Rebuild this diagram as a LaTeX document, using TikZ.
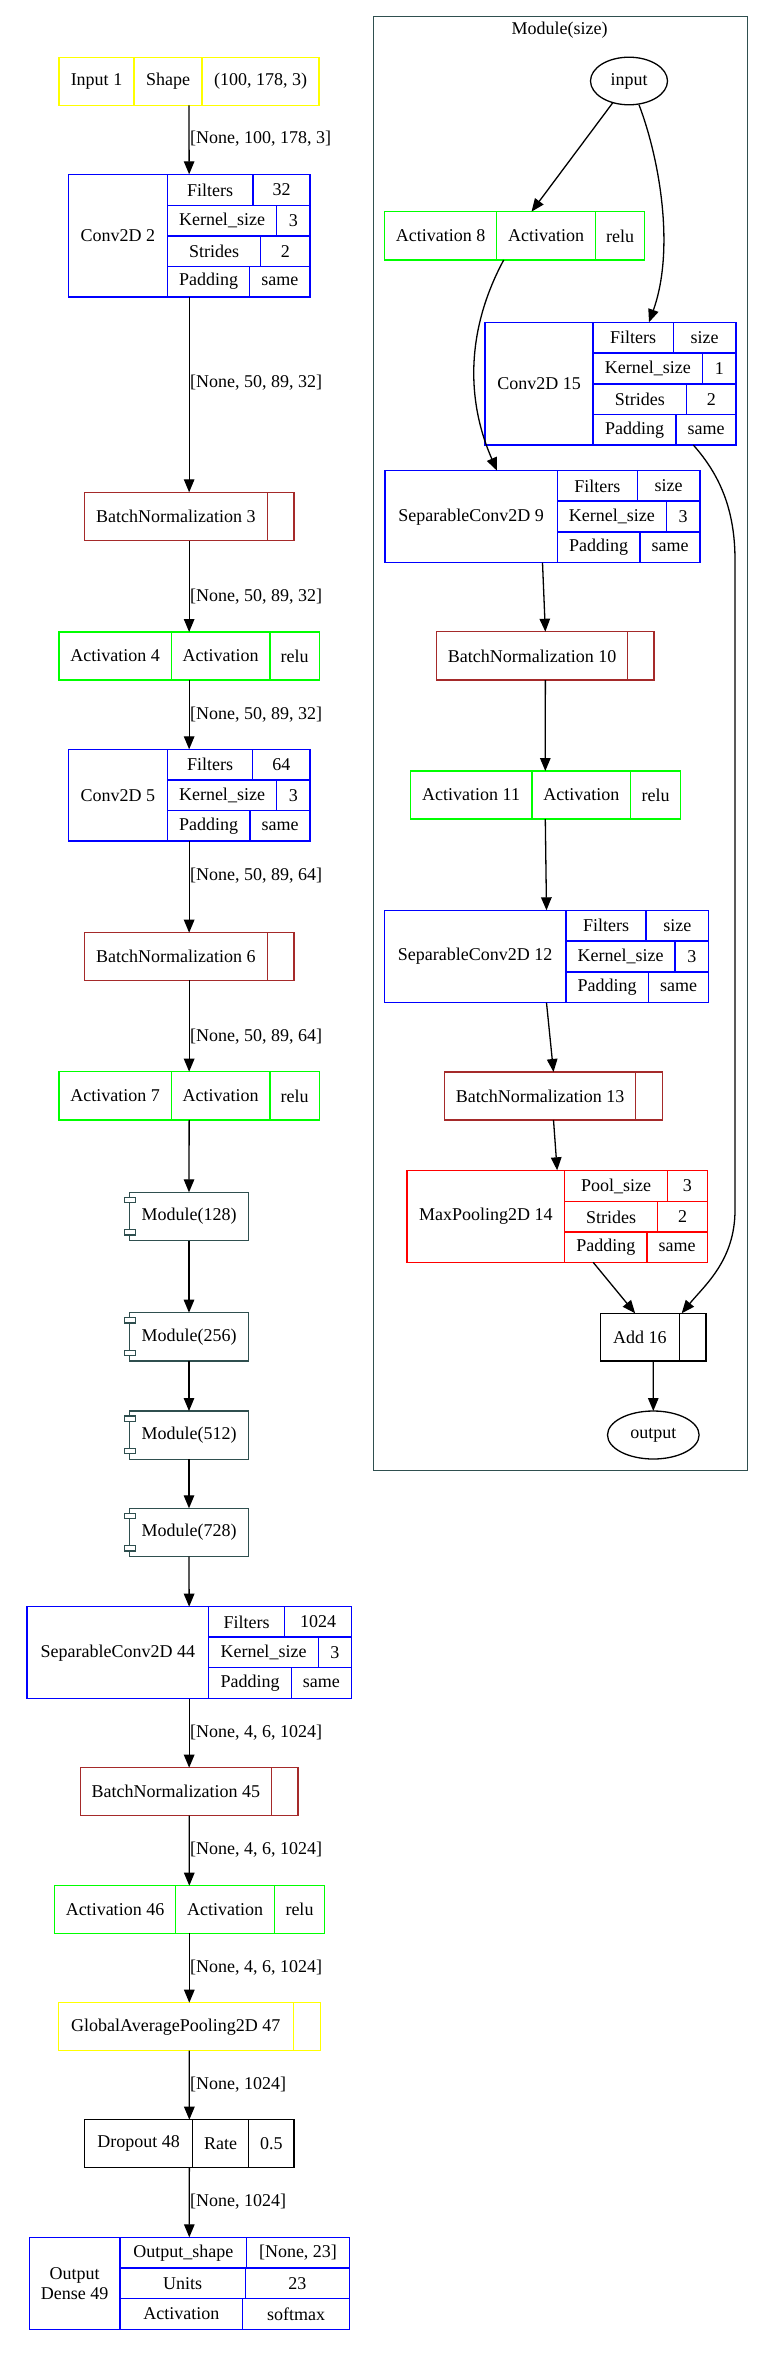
\documentclass[tikz,border=0pt]{standalone}
\usepackage{fontspec}
\setmainfont{Liberation Serif}
\usetikzlibrary{arrows.meta,shapes.geometric,calc}
\definecolor{ylw}{HTML}{FFFF00}
\definecolor{blu}{HTML}{0000FF}
\definecolor{grn}{HTML}{00FF00}
\definecolor{brn}{HTML}{A52A2A}
\definecolor{rd}{HTML}{FF0000}
\definecolor{dsg}{HTML}{2F4F4F}
\definecolor{blk}{HTML}{000000}
\tikzset{
  txt/.style={font=\fontsize{18}{20}\selectfont},
  cellst/.style={txt, draw, line width=1.3pt, inner sep=0pt, outer sep=0pt, align=center},
  recst/.style={draw=none, inner sep=0pt, outer sep=0pt},
  edge/.style={line width=1.3pt, -{Triangle[length=13pt,width=10.5pt]}},
  lbl/.style={txt, anchor=west, inner sep=0pt},
  compst/.style={txt, draw=dsg, line width=1.3pt, inner sep=0pt, outer sep=0pt},
  tabst/.style={draw=dsg, line width=1.1pt, fill=white},
  ellst/.style={txt, draw, ellipse, line width=1.3pt, inner sep=0pt, outer sep=0pt},
}
\newcommand\cellnd[7]{\node[cellst,draw=#1,minimum width={(#5-#3)*1pt},minimum height={(#6-#4)*1pt},anchor=north west] (#2) at (#3,#4) {#7};}
\newcommand\recnd[5]{\node[recst,minimum width={(#4-#2)*1pt},minimum height={(#5-#3)*1pt},anchor=north west] (#1) at (#2,#3) {};}
\newcommand\compnd[3]{%
  \node[compst, minimum width=119.4pt, minimum height=48.4pt, anchor=north west] (#1) at (129.3,#2) {#3};
  \draw[tabst] ($(#1.north west)+(-5,5)$) rectangle +(11,5.3);
  \draw[tabst] ($(#1.south west)+(-5,-11)$) rectangle +(11,5.3);}
\begin{document}
\begin{tikzpicture}[x=1pt,y=-1pt]
\useasboundingbox (0,0) rectangle (763,2357);

% ===== Left column =====
% Input 1
\recnd{in1}{59}{57.3}{319}{105.3}
\cellnd{ylw}{in1a}{59}{57.3}{134}{105.3}{Input 1}
\cellnd{ylw}{in1b}{134}{57.3}{202}{105.3}{Shape}
\cellnd{ylw}{in1c}{202}{57.3}{319}{105.3}{(100, 178, 3)}
% Conv2D 2
\recnd{conv2}{68.3}{174.3}{310}{297}
\cellnd{blu}{c2n}{68.3}{174.3}{167.3}{297}{Conv2D 2}
\cellnd{blu}{c2a}{167.3}{174.3}{253}{205.7}{Filters}
\cellnd{blu}{c2av}{253}{174.3}{310}{205.7}{32}
\cellnd{blu}{c2b}{167.3}{205.7}{276.7}{236}{Kernel\_size}
\cellnd{blu}{c2bv}{276.7}{205.7}{310}{236}{3}
\cellnd{blu}{c2c}{167.3}{236}{260.7}{266.3}{Strides}
\cellnd{blu}{c2cv}{260.7}{236}{310}{266.3}{2}
\cellnd{blu}{c2d}{167.3}{266.3}{249.7}{297}{Padding}
\cellnd{blu}{c2dv}{249.7}{266.3}{310}{297}{same}
% BN 3
\recnd{bn3}{84.3}{492.3}{294}{540.7}
\cellnd{brn}{bn3a}{84.3}{492.3}{267.3}{540.7}{BatchNormalization 3}
\cellnd{brn}{bn3b}{267.3}{492.3}{294}{540.7}{}
% Activation 4
\recnd{act4}{59}{632}{319.3}{680}
\cellnd{grn}{a4a}{59}{632}{171.3}{680}{Activation 4}
\cellnd{grn}{a4b}{171.3}{632}{270}{680}{Activation}
\cellnd{grn}{a4c}{270}{632}{319.3}{680}{relu}
% Conv2D 5
\recnd{conv5}{68.3}{749.3}{310}{841}
\cellnd{blu}{c5n}{68.3}{749.3}{167.3}{841}{Conv2D 5}
\cellnd{blu}{c5a}{167.3}{749.3}{252.7}{780}{Filters}
\cellnd{blu}{c5av}{252.7}{749.3}{310}{780}{64}
\cellnd{blu}{c5b}{167.3}{780}{276.7}{810.7}{Kernel\_size}
\cellnd{blu}{c5bv}{276.7}{780}{310}{810.7}{3}
\cellnd{blu}{c5c}{167.3}{810.7}{250}{841}{Padding}
\cellnd{blu}{c5cv}{250}{810.7}{310}{841}{same}
% BN 6
\recnd{bn6}{84.3}{932.7}{294}{980.3}
\cellnd{brn}{bn6a}{84.3}{932.7}{267.3}{980.3}{BatchNormalization 6}
\cellnd{brn}{bn6b}{267.3}{932.7}{294}{980.3}{}
% Activation 7
\recnd{act7}{59}{1071.7}{319.3}{1120}
\cellnd{grn}{a7a}{59}{1071.7}{171.3}{1120}{Activation 7}
\cellnd{grn}{a7b}{171.3}{1071.7}{270}{1120}{Activation}
\cellnd{grn}{a7c}{270}{1071.7}{319.3}{1120}{relu}
% Modules
\compnd{m128}{1192.3}{Module(128)}
\compnd{m256}{1312.7}{Module(256)}
\compnd{m512}{1411}{Module(512)}
\compnd{m728}{1508.3}{Module(728)}
% SeparableConv2D 44
\recnd{sep44}{27}{1606.7}{351.3}{1698.7}
\cellnd{blu}{s44n}{27}{1606.7}{208.7}{1698.7}{SeparableConv2D 44}
\cellnd{blu}{s44a}{208.7}{1606.7}{284.7}{1637}{Filters}
\cellnd{blu}{s44av}{284.7}{1606.7}{351.3}{1637}{1024}
\cellnd{blu}{s44b}{208.7}{1637}{318.3}{1667.7}{Kernel\_size}
\cellnd{blu}{s44bv}{318.3}{1637}{351.3}{1667.7}{3}
\cellnd{blu}{s44c}{208.7}{1667.7}{291.3}{1698.7}{Padding}
\cellnd{blu}{s44cv}{291.3}{1667.7}{351.3}{1698.7}{same}
% BN 45
\recnd{bn45}{80.3}{1767.7}{298}{1815.7}
\cellnd{brn}{bn45a}{80.3}{1767.7}{271.3}{1815.7}{BatchNormalization 45}
\cellnd{brn}{bn45b}{271.3}{1767.7}{298}{1815.7}{}
% Activation 46
\recnd{act46}{54.3}{1885.7}{324.3}{1933.3}
\cellnd{grn}{a46a}{54.3}{1885.7}{175.7}{1933.3}{Activation 46}
\cellnd{grn}{a46b}{175.7}{1885.7}{274.7}{1933.3}{Activation}
\cellnd{grn}{a46c}{274.7}{1885.7}{324.3}{1933.3}{relu}
% GAP 47
\recnd{gap47}{58.3}{2002.7}{320.3}{2050.7}
\cellnd{ylw}{g47a}{58.3}{2002.7}{293.3}{2050.7}{GlobalAveragePooling2D 47}
\cellnd{ylw}{g47b}{293.3}{2002.7}{320.3}{2050.7}{}
% Dropout 48
\recnd{drop48}{84.7}{2119.7}{294}{2167.7}
\cellnd{blk}{d48a}{84.7}{2119.7}{192.7}{2167.7}{Dropout 48}
\cellnd{blk}{d48b}{192.7}{2119.7}{248.7}{2167.7}{Rate}
\cellnd{blk}{d48c}{248.7}{2119.7}{294}{2167.7}{0.5}
% Dense 49
\recnd{dense49}{29.3}{2237.3}{349.3}{2329.3}
\cellnd{blu}{d49n}{29.3}{2237.3}{120}{2329.3}{Output\\Dense 49}
\cellnd{blu}{d49a}{120}{2237.3}{246.7}{2268}{Output\_shape}
\cellnd{blu}{d49av}{246.7}{2237.3}{349.3}{2268}{[None, 23]}
\cellnd{blu}{d49b}{120}{2268}{245.3}{2298.7}{Units}
\cellnd{blu}{d49bv}{245.3}{2268}{349.3}{2298.7}{23}
\cellnd{blu}{d49c}{120}{2298.7}{242.7}{2329.3}{Activation}
\cellnd{blu}{d49cv}{242.7}{2298.7}{349.3}{2329.3}{softmax}

% Left edges
\draw[edge] (in1.south) -- (conv2.north);
\draw[edge] (conv2.south) -- (bn3.north);
\draw[edge] (bn3.south) -- (act4.north);
\draw[edge] (act4.south) -- (conv5.north);
\draw[edge] (conv5.south) -- (bn6.north);
\draw[edge] (bn6.south) -- (act7.north);
\draw[edge] (act7.south) -- (m128.north);
\draw[edge] (m128.south) -- (m256.north);
\draw[edge] (m256.south) -- (m512.north);
\draw[edge] (m512.south) -- (m728.north);
\draw[edge] (m728.south) -- (sep44.north);
\draw[edge] (sep44.south) -- (bn45.north);
\draw[edge] (bn45.south) -- (act46.north);
\draw[edge] (act46.south) -- (gap47.north);
\draw[edge] (gap47.south) -- (drop48.north);
\draw[edge] (drop48.south) -- (dense49.north);
% Edge labels
\node[lbl] (l1) at (190,139) {[None, 100, 178, 3]};
\node[lbl] (l2) at (190,383) {[None, 50, 89, 32]};
\node[lbl] (l3) at (190,596.7) {[None, 50, 89, 32]};
\node[lbl] (l4) at (190,715) {[None, 50, 89, 32]};
\node[lbl] (l5) at (190,875.7) {[None, 50, 89, 64]};
\node[lbl] (l6) at (190,1036.7) {[None, 50, 89, 64]};
\node[lbl] (l7) at (190,1732.3) {[None, 4, 6, 1024]};
\node[lbl] (l8) at (190,1850) {[None, 4, 6, 1024]};
\node[lbl] (l9) at (190,1967.3) {[None, 4, 6, 1024]};
\node[lbl] (l10) at (190,2085) {[None, 1024]};
\node[lbl] (l11) at (190,2201.7) {[None, 1024]};

% ===== Module cluster =====
\node[draw=dsg, line width=1.3pt, inner sep=0pt, minimum width=373.7pt, minimum height=1454.3pt, anchor=north west] (cluster) at (373,15.7) {};
\node[txt, inner sep=0pt] (ctitle) at (559.5,30) {Module(size)};
\node[ellst, minimum width=77pt, minimum height=47.6pt] (inp) at (629,81) {input};
% Activation 8
\recnd{act8}{384.3}{211.7}{644.7}{260}
\cellnd{grn}{a8a}{384.3}{211.7}{496.7}{260}{Activation 8}
\cellnd{grn}{a8b}{496.7}{211.7}{595.3}{260}{Activation}
\cellnd{grn}{a8c}{595.3}{211.7}{644.7}{260}{relu}
% Conv2D 15
\recnd{conv15}{485}{322.3}{736}{445}
\cellnd{blu}{c15n}{485}{322.3}{593}{445}{Conv2D 15}
\cellnd{blu}{c15a}{593}{322.3}{673.3}{353}{Filters}
\cellnd{blu}{c15av}{673.3}{322.3}{736}{353}{size}
\cellnd{blu}{c15b}{593}{353}{702.7}{384}{Kernel\_size}
\cellnd{blu}{c15bv}{702.7}{353}{736}{384}{1}
\cellnd{blu}{c15c}{593}{384}{686.7}{414.7}{Strides}
\cellnd{blu}{c15cv}{686.7}{384}{736}{414.7}{2}
\cellnd{blu}{c15d}{593}{414.7}{676}{445}{Padding}
\cellnd{blu}{c15dv}{676}{414.7}{736}{445}{same}
% SeparableConv2D 9
\recnd{sep9}{385}{470.7}{700}{562.7}
\cellnd{blu}{s9n}{385}{470.7}{557.3}{562.7}{SeparableConv2D 9}
\cellnd{blu}{s9a}{557.3}{470.7}{637.3}{501}{Filters}
\cellnd{blu}{s9av}{637.3}{470.7}{700}{501}{size}
\cellnd{blu}{s9b}{557.3}{501}{666.3}{532}{Kernel\_size}
\cellnd{blu}{s9bv}{666.3}{501}{700}{532}{3}
\cellnd{blu}{s9c}{557.3}{532}{640}{562.7}{Padding}
\cellnd{blu}{s9cv}{640}{532}{700}{562.7}{same}
% BN 10
\recnd{bn10}{436.7}{631.7}{654}{680}
\cellnd{brn}{bn10a}{436.7}{631.7}{627.3}{680}{BatchNormalization 10}
\cellnd{brn}{bn10b}{627.3}{631.7}{654}{680}{}
% Activation 11
\recnd{act11}{410.3}{771}{680.3}{819}
\cellnd{grn}{a11a}{410.3}{771}{532}{819}{Activation 11}
\cellnd{grn}{a11b}{532}{771}{630.7}{819}{Activation}
\cellnd{grn}{a11c}{630.7}{771}{680.3}{819}{relu}
% SeparableConv2D 12
\recnd{sep12}{384.3}{910.3}{708.7}{1002.7}
\cellnd{blu}{s12n}{384.3}{910.3}{566}{1002.7}{SeparableConv2D 12}
\cellnd{blu}{s12a}{566}{910.3}{646}{941}{Filters}
\cellnd{blu}{s12av}{646}{910.3}{708.7}{941}{size}
\cellnd{blu}{s12b}{566}{941}{675}{972}{Kernel\_size}
\cellnd{blu}{s12bv}{675}{941}{708.7}{972}{3}
\cellnd{blu}{s12c}{566}{972}{648.3}{1002.7}{Padding}
\cellnd{blu}{s12cv}{648.3}{972}{708.7}{1002.7}{same}
% BN 13
\recnd{bn13}{444.7}{1072}{662.3}{1120}
\cellnd{brn}{bn13a}{444.7}{1072}{635.3}{1120}{BatchNormalization 13}
\cellnd{brn}{bn13b}{635.3}{1072}{662.3}{1120}{}
% MaxPooling2D 14
\recnd{mp14}{407}{1170.3}{707.3}{1262.3}
\cellnd{rd}{mpn}{407}{1170.3}{564.7}{1262.3}{MaxPooling2D 14}
\cellnd{rd}{mpa}{564.7}{1170.3}{667.3}{1201.7}{Pool\_size}
\cellnd{rd}{mpav}{667.3}{1170.3}{707.3}{1201.7}{3}
\cellnd{rd}{mpb}{564.7}{1201.7}{657.7}{1232}{Strides}
\cellnd{rd}{mpbv}{657.7}{1201.7}{707.3}{1232}{2}
\cellnd{rd}{mpc}{564.7}{1232}{647}{1262.3}{Padding}
\cellnd{rd}{mpcv}{647}{1232}{707.3}{1262.3}{same}
% Add 16
\recnd{add16}{600.3}{1313.3}{706}{1361}
\cellnd{blk}{add16a}{600.3}{1313.3}{679.3}{1361}{Add 16}
\cellnd{blk}{add16b}{679.3}{1313.3}{706}{1361}{}
\node[ellst, minimum width=91.6pt, minimum height=48pt] (outp) at (653.3,1435) {output};

% Module edges
\draw[edge] (inp) -- ([xshift=17pt]act8.north);
\draw[edge] ([xshift=10pt]inp.south) .. controls (660,160) and (675,250) .. ([xshift=38.5pt]conv15.north);
\draw[edge] ([xshift=-10.8pt]act8.south) .. controls (466,330) and (466,400) .. ([xshift=-45.5pt]sep9.north);
\draw[edge] ([xshift=82.8pt]conv15.south) .. controls (720,475) and (735,510) .. (735,560) -- (735,1210) .. controls (735,1260) and (705,1285) .. ([xshift=28.5pt]add16.north);
\draw[edge] (sep9.south) -- (bn10.north);
\draw[edge] (bn10.south) -- (act11.north);
\draw[edge] (act11.south) -- (sep12.north);
\draw[edge] (sep12.south) -- (bn13.north);
\draw[edge] (bn13.south) -- (mp14.north);
\draw[edge] ([xshift=36pt]mp14.south) -- ([xshift=-18pt]add16.north);
\draw[edge] (add16.south) -- (outp.north);
\end{tikzpicture}
\end{document}
